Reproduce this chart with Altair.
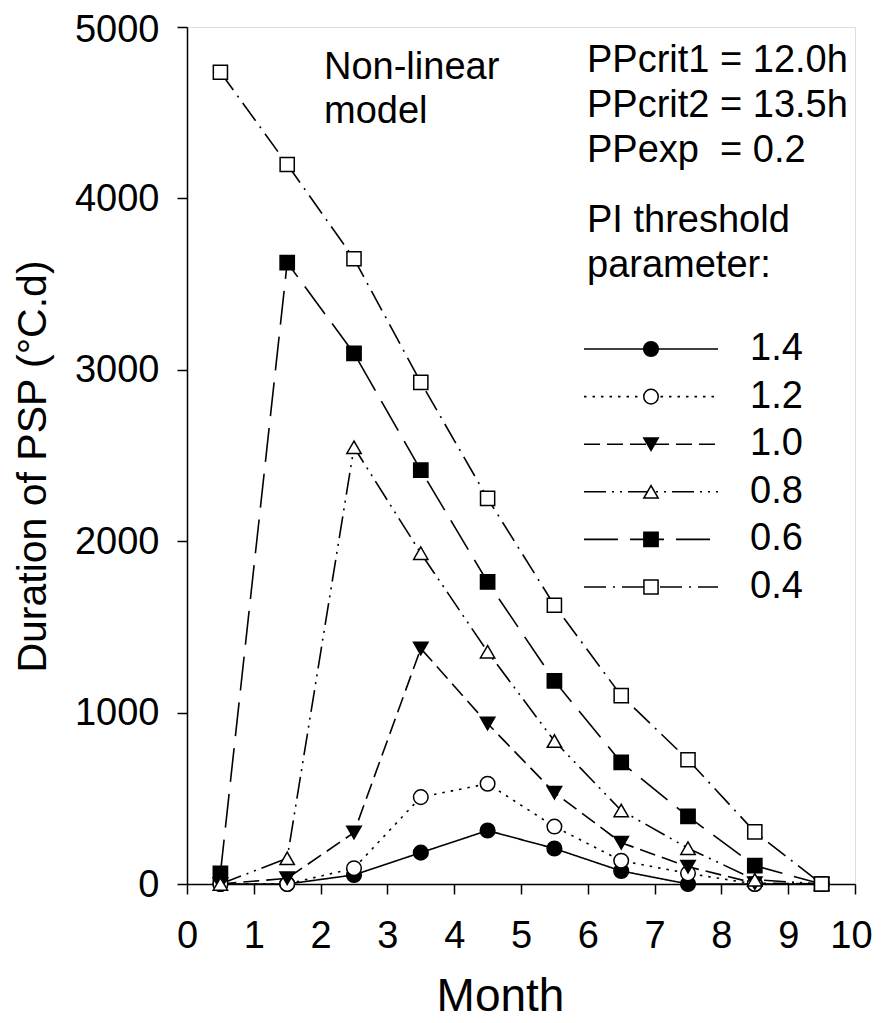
import altair as alt
import pandas as pd

# ---------------- data ----------------
months = [0.5, 1.5, 2.5, 3.5, 4.5, 5.5, 6.5, 7.5, 8.5, 9.5]
series_names = ["1.4", "1.2", "1.0", "0.8", "0.6", "0.4"]
psp_14 = [0, 0, 53, 183, 312, 207, 76, 0, 0, 0]
psp_12 = [0, 0, 92, 507, 585, 335, 136, 62, 0, 0]
psp_10 = [0, 33, 300, 1374, 936, 533, 241, 101, 5, 0]
psp_08 = [0, 150, 2548, 1930, 1355, 834, 429, 209, 25, 0]
psp_06 = [62, 3625, 3096, 2415, 1762, 1185, 709, 394, 107, 0]
psp_04 = [4736, 4198, 3648, 2927, 2250, 1626, 1099, 725, 304, 0]
x_ticks = list(range(0, 11))
y_ticks = [0, 1000, 2000, 3000, 4000, 5000]

all_vals = [psp_14, psp_12, psp_10, psp_08, psp_06, psp_04]
rows = []
for name, vals in zip(series_names, all_vals):
    for m, v in zip(months, vals):
        rows.append({"series": name, "month": m, "psp": v})
df = pd.DataFrame(rows)

# drawing order of the markers
point_order = ["1.4", "1.2", "1.0", "0.6", "0.8", "0.4"]
df_points = pd.concat([df[df.series == s] for s in point_order], ignore_index=True)

# ---------------- layout ----------------
W, H = 668, 857
FONT = "Liberation Sans"


def px2month(px):
    return px / W * 10.0


def py2psp(py):
    return (H - py) / H * 5000.0


x_scale = alt.Scale(domain=[0, 10], nice=False, zero=False)
y_scale = alt.Scale(domain=[0, 5000], nice=False)

dash_range = [[1, 0], [2.5, 6], [16, 7], [22, 6, 2, 6, 2, 6], [34, 12], [22, 7, 2, 7]]
shape_range = ["circle", "circle", "triangle-down", "triangle-up", "square", "square"]
fill_range = ["black", "white", "black", "white", "black", "white"]
size_range = [215, 200, 300, 270, 200, 195]

dash_enc = alt.StrokeDash("series:N", scale=alt.Scale(domain=series_names, range=dash_range), legend=None)
shape_enc = alt.Shape("series:N", scale=alt.Scale(domain=series_names, range=shape_range), legend=None)
fill_enc = alt.Fill("series:N", scale=alt.Scale(domain=series_names, range=fill_range), legend=None)
size_enc = alt.Size("series:N", scale=alt.Scale(domain=series_names, range=size_range), legend=None)

x_axis = alt.Axis(
    values=x_ticks, format="d", tickSize=10, labelFontSize=38, labelPadding=23, labelFont=FONT,
    labelFlush=False, labelOverlap=False, grid=False,
    labelOffset=alt.ExprRef("datum.value == 10 ? -4 : 0"),
    title="Month", titleFontSize=46, titleFont=FONT, titleFontWeight="normal",
    titleX=313, titleY=126, titleBaseline="alphabetic", titleAlign="center", titleAnchor="middle",
    domainColor="black", tickColor="black", labelColor="black", titleColor="black",
    domainWidth=1.5, tickWidth=1.5,
)
y_axis = alt.Axis(
    values=y_ticks, format="d", tickSize=10, labelFontSize=38, labelPadding=18, labelFont=FONT,
    labelFlush=False, labelOverlap=False, grid=False,
    labelOffset=alt.ExprRef("datum.value == 5000 ? 3 : 1"),
    title="Duration of PSP (°C.d)", titleFontSize=41, titleFont=FONT, titleFontWeight="normal",
    titleX=-142, titleY=439, titleAngle=270, titleBaseline="alphabetic", titleAlign="center",
    titleAnchor="middle",
    domainColor="black", tickColor="black", labelColor="black", titleColor="black",
    domainWidth=1.5, tickWidth=1.5,
)

base = alt.Chart(df)

lines = base.mark_line(color="black", strokeWidth=1.6).encode(
    x=alt.X("month:Q", scale=x_scale, axis=x_axis),
    y=alt.Y("psp:Q", scale=y_scale, axis=y_axis),
    strokeDash=dash_enc,
    detail="series:N",
)

points = alt.Chart(df_points).mark_point(filled=True, stroke="black", strokeWidth=1.5, opacity=1).encode(
    x=alt.X("month:Q", scale=x_scale),
    y=alt.Y("psp:Q", scale=y_scale),
    shape=shape_enc,
    fill=fill_enc,
    size=size_enc,
)

# ---------------- legend (manual) ----------------
leg_rows = []
for i, name in enumerate(series_names):
    py = 322 + 47.6 * i
    leg_rows.append({
        "series": name,
        "x1": px2month(397), "x2": px2month(531), "xm": px2month(464),
        "xl": px2month(563), "y": py2psp(py),
    })
leg_df = pd.DataFrame(leg_rows)

leg_lines = alt.Chart(leg_df).mark_rule(color="black", strokeWidth=1.6).encode(
    x=alt.X("x1:Q", scale=x_scale), x2="x2:Q",
    y=alt.Y("y:Q", scale=y_scale),
    strokeDash=dash_enc,
)
leg_points = alt.Chart(leg_df).mark_point(filled=True, stroke="black", strokeWidth=1.5, opacity=1).encode(
    x=alt.X("xm:Q", scale=x_scale),
    y=alt.Y("y:Q", scale=y_scale),
    shape=shape_enc, fill=fill_enc, size=size_enc,
)
leg_text = alt.Chart(leg_df).mark_text(
    font=FONT, fontSize=38, align="left", baseline="middle", color="black"
).encode(
    x=alt.X("xl:Q", scale=x_scale),
    y=alt.Y("y:Q", scale=y_scale),
    text="series:N",
)


def label(txt, px, py, size=38):
    return alt.Chart(pd.DataFrame({"t": [txt]})).mark_text(
        font=FONT, fontSize=size, align="left", baseline="alphabetic", color="black"
    ).encode(x=alt.value(px), y=alt.value(py), text="t:N")


annots = [
    label("Non-linear", 137, 52),
    label("model", 137, 96),
    label("PPcrit1 = 12.0h", 400, 45),
    label("PPcrit2 = 13.5h", 400, 90),
    label("PPexp\u00a0 = 0.2", 400, 135),
    label("PI threshold", 400, 205),
    label("parameter:", 400, 250),
]

chart = alt.layer(lines, leg_lines, points, leg_points, leg_text, *annots).properties(
    width=W, height=H,
    autosize=alt.AutoSizeParams(type="none"),
    padding={"left": 179, "top": 19, "right": 17, "bottom": 138},
).configure_view(
    stroke="black", strokeWidth=1.5
).configure(
    font=FONT
)

chart.save("out.html", embed_options={"renderer": "svg", "actions": False})
